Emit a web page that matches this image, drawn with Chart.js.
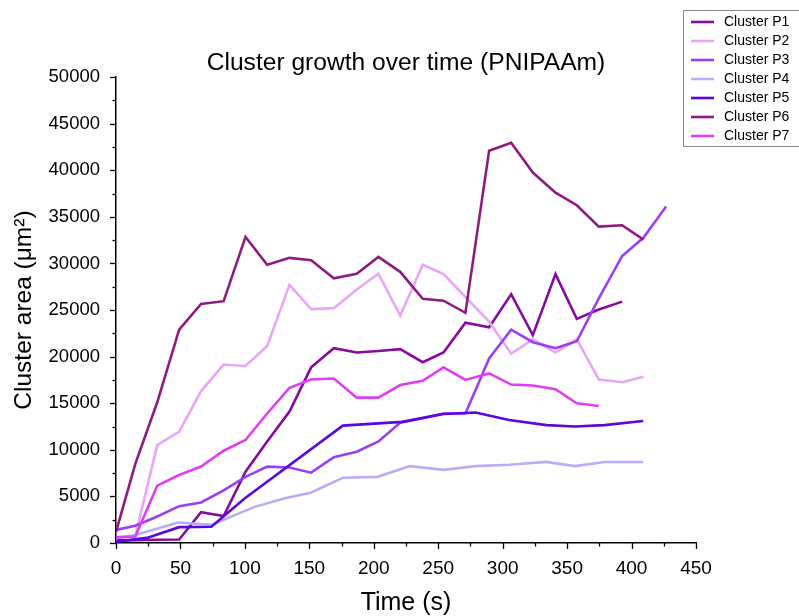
<!DOCTYPE html>
<html>
<head>
<meta charset="utf-8">
<script src="https://cdn.jsdelivr.net/npm/chart.js@4.4.1/dist/chart.umd.min.js"></script>
<style>
  html, body { margin: 0; padding: 0; background: #ffffff; overflow: hidden; }
  #wrap { position: relative; width: 799px; height: 616px; }
</style>
</head>
<body>
<div id="wrap"><canvas id="chart" width="799" height="616"></canvas></div>
<script>
// Frame times (s) shared by most clusters
const frameTimes = [0, 15, 32, 49, 66, 83.5, 100.5, 117.3, 134.6, 151.4, 169, 186.8, 203.6,
                    220.5, 238, 254.1, 271.1, 289.5, 306.6, 323.4, 341, 357.5, 374.6, 392.7, 409.2, 426.8];
// Sampling times for clusters P4 and P5
const timesP4 = [0, 15, 48, 74, 107, 131, 151, 176, 203, 228, 254, 279, 305, 334, 356, 379, 409];
const timesP5 = [0, 24, 49, 74, 100, 176, 222, 254, 279, 305, 334, 356, 379, 409];

// Cluster areas (µm²)
const areaP1 = [300, 300, 350, 380, 3300, 2900, 7650, 10900, 14100, 18850, 20900, 20450, 20600,
                20800, 19400, 20450, 23650, 23150, 26700, 22300, 28850, 24050, 25050, 25900];
const areaP2 = [600, 750, 10500, 11950, 16300, 19150, 19000, 21150, 27700, 25100, 25200, 27200, 28900,
                24400, 29850, 28850, 26400, 23750, 20300, 21850, 20450, 21850, 17550, 17250, 17850];
const areaP3 = [1400, 1850, 2850, 3950, 4350, 5650, 7100, 8200, 8100, 7550, 9200, 9800, 10900,
                12900, 13400, 13900, 13900, 19800, 22900, 21550, 20900, 21650, 26250, 30800, 32750, 36100];
const areaP4 = [500, 850, 2200, 1950, 3850, 4800, 5400, 7000, 7100, 8250, 7850, 8250, 8400, 8700, 8250, 8700, 8700];
const areaP5 = [150, 550, 1700, 1750, 4800, 12600, 13000, 13850, 14000, 13200, 12650, 12500, 12650, 13100];
const areaP6 = [1200, 8500, 15100, 22900, 25650, 25950, 32850, 29850, 30600, 30350, 28400, 28900, 30700,
                29100, 26200, 26000, 24700, 42100, 42950, 39750, 37600, 36250, 33950, 34100, 32550];
const areaP7 = [600, 700, 6150, 7300, 8200, 9900, 11050, 13900, 16650, 17550, 17650, 15600, 15600,
                16950, 17400, 18850, 17500, 18200, 17000, 16900, 16500, 15000, 14700];

const seriesNames = ['Cluster P1', 'Cluster P2', 'Cluster P3', 'Cluster P4', 'Cluster P5', 'Cluster P6', 'Cluster P7'];
const seriesColors = ['#850C9E', '#EAA6F6', '#9B3FF6', '#B6AEF8', '#5A08DF', '#8D1C7F', '#E03EF1'];
const seriesTimes = [frameTimes, frameTimes, frameTimes, timesP4, timesP5, frameTimes, frameTimes];
const seriesAreas = [areaP1, areaP2, areaP3, areaP4, areaP5, areaP6, areaP7];

const xTickLabels = [0, 50, 100, 150, 200, 250, 300, 350, 400, 450];
const yTickLabels = [0, 5000, 10000, 15000, 20000, 25000, 30000, 35000, 40000, 45000, 50000];

const FONT = "'Liberation Sans', Arial, sans-serif";

const datasets = seriesNames.map((name, i) => ({
  label: name,
  data: seriesAreas[i].map((v, k) => ({ x: seriesTimes[i][k], y: v })),
  borderColor: seriesColors[i],
  backgroundColor: seriesColors[i],
  borderWidth: 2.6,
  pointRadius: 0,
  tension: 0,
  fill: false,
  borderJoinStyle: 'miter',
  order: -i
}));

// Major (labelled) and minor ticks drawn outward from both axes
const axisTicks = {
  id: 'axisTicks',
  afterDraw(chart) {
    const ctx = chart.ctx;
    const area = chart.chartArea;
    ctx.save();
    ctx.strokeStyle = '#000';
    ctx.lineWidth = 1.3;
    const xs = chart.scales.x;
    xs.ticks.forEach(t => {
      const px = Math.round(xs.getPixelForValue(t.value)) + 0.5;
      const len = xTickLabels.includes(t.value) ? 6 : 3.5;
      ctx.beginPath();
      ctx.moveTo(px, area.bottom);
      ctx.lineTo(px, area.bottom + len);
      ctx.stroke();
    });
    const ys = chart.scales.y;
    ys.ticks.forEach(t => {
      const py = Math.round(ys.getPixelForValue(t.value)) + 0.5;
      const len = yTickLabels.includes(t.value) ? 6 : 3.5;
      ctx.beginPath();
      ctx.moveTo(area.left, py);
      ctx.lineTo(area.left - len, py);
      ctx.stroke();
    });
    ctx.restore();
  }
};

// Boxed legend in the top-right corner
const boxLegend = {
  id: 'boxLegend',
  afterDraw(chart) {
    const ctx = chart.ctx;
    const left = 683, top = 10, rowH = 19, firstRow = 22;
    const n = chart.data.datasets.length;
    ctx.save();
    ctx.fillStyle = '#fff';
    ctx.fillRect(left, top, 130, firstRow - top + (n - 1) * rowH + 10);
    ctx.strokeStyle = '#8a8a8a';
    ctx.lineWidth = 1;
    ctx.strokeRect(left + 0.5, top + 0.5, 130, firstRow - top + (n - 1) * rowH + 10);
    ctx.font = '14px ' + FONT;
    ctx.textBaseline = 'middle';
    chart.data.datasets.forEach((ds, i) => {
      const y = firstRow + i * rowH;
      ctx.strokeStyle = ds.borderColor;
      ctx.lineWidth = 2.6;
      ctx.beginPath();
      ctx.moveTo(691, y);
      ctx.lineTo(714, y);
      ctx.stroke();
      ctx.fillStyle = '#000';
      ctx.fillText(ds.label, 724, y + 0.5);
    });
    ctx.restore();
  }
};

new Chart(document.getElementById('chart'), {
  type: 'line',
  data: { datasets },
  plugins: [axisTicks, boxLegend],
  options: {
    responsive: false,
    animation: false,
    devicePixelRatio: 1,
    layout: { padding: { left: 0, right: 103, top: 0, bottom: 0 } },
    plugins: {
      legend: { display: false },
      tooltip: { enabled: false },
      title: {
        display: true,
        text: 'Cluster growth over time (PNIPAAm)',
        color: '#000',
        fullSize: false,
        font: { family: FONT, size: 24.6, weight: 'normal', lineHeight: 1.1 },
        padding: { top: 50, bottom: 0 }
      }
    },
    scales: {
      x: {
        type: 'linear',
        min: 0, max: 450,
        border: { display: true, color: '#000', width: 1.5 },
        grid: { display: false, drawTicks: false },
        ticks: {
          stepSize: 25,
          autoSkip: false,
          maxRotation: 0,
          color: '#000',
          padding: 14,
          font: { family: FONT, size: 19 },
          callback: v => (xTickLabels.includes(v) ? String(v) : '')
        },
        title: {
          display: true,
          text: 'Time (s)',
          color: '#000',
          font: { family: FONT, size: 25, lineHeight: 1 },
          padding: { top: 0, bottom: 0 }
        },
        afterFit: s => { s.height = 73; }
      },
      y: {
        type: 'linear',
        min: 0, max: 50000,
        border: { display: true, color: '#000', width: 1.5 },
        grid: { display: false, drawTicks: false },
        ticks: {
          stepSize: 2500,
          autoSkip: false,
          color: '#000',
          padding: 16,
          font: { family: FONT, size: 18.5 },
          callback: v => (yTickLabels.includes(v) ? String(v) : '')
        },
        title: {
          display: true,
          text: 'Cluster area (\u03BCm\u00B2)',
          color: '#000',
          font: { family: FONT, size: 24.5, lineHeight: 1.1 },
          padding: { top: 11, bottom: 0 }
        },
        afterFit: s => { s.width = 116; }
      }
    }
  }
});
</script>
</body>
</html>
